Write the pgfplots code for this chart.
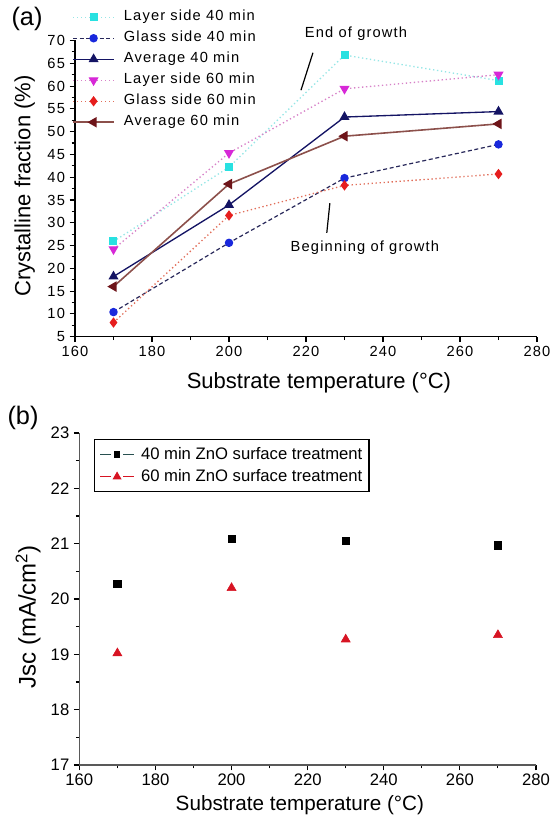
\documentclass[border=0pt]{standalone}
\usepackage{fontspec}
\setmainfont{Liberation Sans}
\newfontfamily\spaced[LetterSpace=8]{Liberation Sans}
\usepackage{pgfplots}
\pgfplotsset{compat=1.18}

\definecolor{cyanpt}{RGB}{40,225,225}
\definecolor{cyanln}{RGB}{150,230,230}
\definecolor{bluept}{RGB}{25,40,220}
\definecolor{blueln}{RGB}{40,40,90}
\definecolor{navy}{RGB}{20,20,100}
\definecolor{magpt}{RGB}{215,40,215}
\definecolor{magln}{RGB}{215,130,200}
\definecolor{redpt}{RGB}{230,30,30}
\definecolor{redln}{RGB}{225,110,90}
\definecolor{brownpt}{RGB}{110,20,25}
\definecolor{brownln}{RGB}{140,80,75}
\definecolor{jred}{RGB}{215,20,35}
\definecolor{tealln}{RGB}{40,80,80}

\pgfplotsset{
  panel/.style={
    scale only axis,
    axis lines*=left,
    axis line style={line width=0.9pt, -},
    tick align=outside,
    major tick length=4pt,
    minor tick length=2.5pt,
    every tick/.style={line width=0.8pt, black},
    minor x tick num=1,
    minor y tick num=1,
    /pgf/number format/assume math mode=true,
    clip=false,
  },
  lineimg/.style={legend image code/.code={
    \draw[mark repeat=2,mark phase=2,##1] plot coordinates {(0pt,0pt) (15.4pt,0pt) (30.8pt,0pt)};
    \path (37.5pt,0pt);}},
}

\begin{document}
\begin{tikzpicture}
\useasboundingbox (0,0) rectangle (412.5pt,619.5pt);

% panel (a)
\begin{axis}[panel,
  at={(56.25pt,366.98pt)}, anchor=south west,
  width=346.5pt, height=222.15pt,
  xmin=160, xmax=280, ymin=5, ymax=70,
  xtick={160,180,...,280}, ytick={5,10,...,70},
  ticklabel style={font=\spaced\fontsize{11}{13}\selectfont},
  xlabel={Substrate temperature (°C)},
  ylabel={Crystalline fraction (\%)},
  label style={font=\fontsize{16.5}{19}\selectfont},
  xlabel style={at={(axis description cs:0.528,-0.155)}, anchor=center},
  ylabel style={at={(axis description cs:-0.109,0.509)}, anchor=center, rotate=0},
  lineimg,
  legend cell align=left,
  legend style={at={(axis description cs:-0.0065,1.103)}, anchor=north west,
    draw=none, fill=none, inner sep=0pt, row sep=5.25pt,
    font=\spaced\fontsize{11}{13}\selectfont,
    nodes={inner sep=0pt, text height=8pt, text depth=2.5pt}},
]
\addplot[cyanln, dotted, line width=1pt, mark=square*, mark size=2.5pt,
  mark options={solid, draw=cyanpt, fill=cyanpt}]
  coordinates {(170,25.9) (200,42.2) (230,66.8) (270,61.2)};
\addlegendentry{Layer side 40 min}
\addplot[blueln, densely dashed, line width=0.9pt, mark=*, mark size=2.7pt,
  mark options={solid, draw=bluept, fill=bluept}]
  coordinates {(170,10.4) (200,25.6) (230,39.8) (270,47.2)};
\addlegendentry{Glass side 40 min}
\addplot[navy, line width=1pt, mark=triangle*, mark size=3.4pt,
  mark options={solid, draw=navy, fill=navy}]
  coordinates {(170,18.2) (200,33.9) (230,53.2) (270,54.4)};
\addlegendentry{Average 40 min}
\addplot[magln, dotted, line width=1pt, mark=triangle*, mark size=3.4pt,
  mark options={solid, rotate=180, draw=magpt, fill=magpt}]
  coordinates {(170,24.2) (200,45.3) (230,59.4) (270,62.5)};
\addlegendentry{Layer side 60 min}
\addplot[redln, dotted, line width=1pt, mark=diamond*, mark size=3.1pt,
  mark options={solid, draw=redpt, fill=redpt}]
  coordinates {(170,8.1) (200,31.6) (230,38.2) (270,40.7)};
\addlegendentry{Glass side 60 min}
\addplot[brownln, line width=1.2pt, mark=triangle*, mark size=3.4pt,
  mark options={solid, rotate=90, draw=brownpt, fill=brownpt}]
  coordinates {(170,16.0) (200,38.5) (230,49.0) (270,51.7)};
\addlegendentry{Average 60 min}

\draw[line width=0.9pt] (axis cs:221.8,67.3) -- (axis cs:218.7,59.1);
\node[font=\spaced\fontsize{11}{13}\selectfont] at (axis cs:233.0,71.5) {End of growth};
\draw[line width=0.9pt] (axis cs:226.2,34.3) -- (axis cs:225.4,27.8);
\node[font=\spaced\fontsize{11}{13}\selectfont] at (axis cs:235.3,24.5) {Beginning of growth};
\end{axis}

% panel (b)
\begin{axis}[panel,
  at={(59.5pt,45.75pt)}, anchor=south west,
  width=342.5pt, height=249pt,
  xmin=160, xmax=280, ymin=17, ymax=23,
  xtick={160,180,...,280}, ytick={17,18,...,23},
  axis line style={line width=0.9pt, -, black!65},
  ticklabel style={font=\fontsize{12.5}{14}\selectfont},
  xticklabel style={yshift=1pt},
  xlabel={Substrate temperature (°C)},
  ylabel={Jsc (mA/cm\textsuperscript{2})},
  xlabel style={at={(axis description cs:0.483,-0.122)}, anchor=center,
    font=\fontsize{15.5}{18}\selectfont},
  ylabel style={at={(axis description cs:-0.112,0.446)}, anchor=center,
    font=\fontsize{18}{20}\selectfont},
  legend cell align=left,
  legend style={at={(axis description cs:0.032,0.982)}, anchor=north west,
    draw=black, line width=0.9pt, fill=white, inner xsep=4pt, inner ysep=5pt,
    row sep=4pt,
    font=\fontsize{12.5}{14}\selectfont,
    nodes={inner sep=1pt}},
]
\addplot[only marks, mark=square*, mark size=2.8pt, draw=black, fill=black,
  legend image code/.code={
    \draw[tealln, line width=0.8pt] (0pt,0pt) -- (8pt,0pt) (17pt,0pt) -- (25pt,0pt);
    \draw[only marks, mark=square*, mark size=2.1pt, black] plot coordinates {(12.5pt,0pt)};
    \path (29pt,0pt);}]
  coordinates {(170,20.28) (200,21.09) (230,21.05) (270,20.97)};
\addlegendentry{40 min ZnO surface treatment}
\addplot[only marks, mark=triangle*, mark size=3.9pt, draw=jred, fill=jred,
  legend image code/.code={
    \draw[jred, line width=0.8pt] (0pt,0pt) -- (8pt,0pt) (17pt,0pt) -- (25pt,0pt);
    \draw[only marks, mark=triangle*, mark size=3pt, jred] plot coordinates {(12.5pt,0pt)};
    \path (29pt,0pt);}]
  coordinates {(170,19.02) (200,20.20) (230,19.27) (270,19.35)};
\addlegendentry{60 min ZnO surface treatment}
\end{axis}

\node[font=\fontsize{19}{21}\selectfont] at (20.25pt,605.25pt) {(a)};
\node[font=\fontsize{19}{21}\selectfont] at (17.25pt,306pt) {(b)};
\end{tikzpicture}
\end{document}
